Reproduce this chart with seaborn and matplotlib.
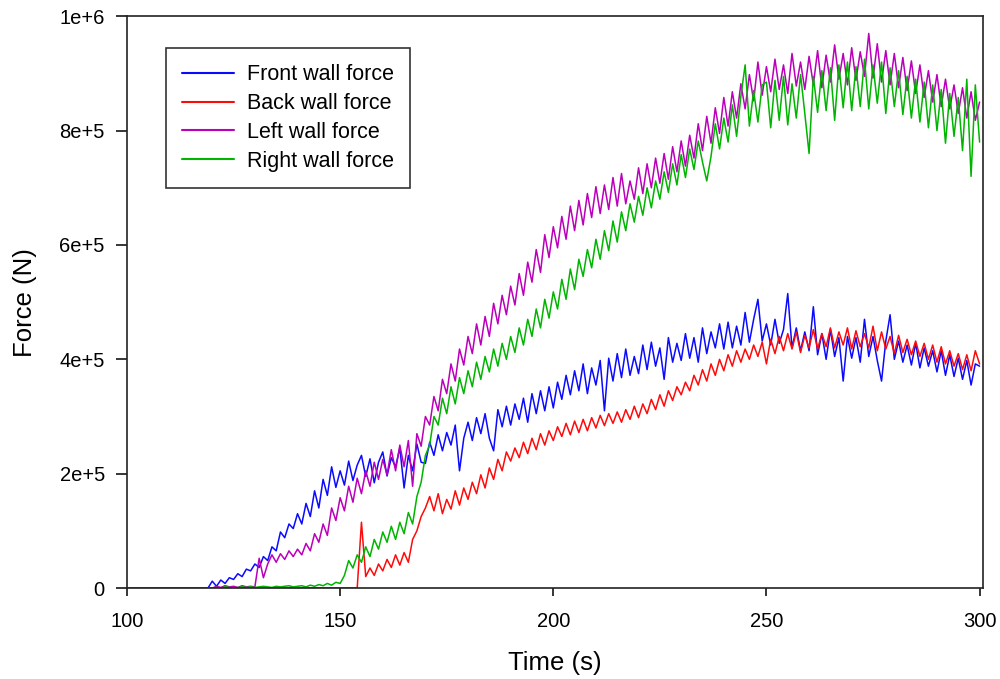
import numpy as np
import pandas as pd
import matplotlib
matplotlib.use("Agg")
import matplotlib.pyplot as plt
import seaborn as sns

# ---- data (force in kN, sampled every 1 s; zero before each start) ----
front_start = 120
front_kN = [
    12, 3, 14, 8, 18, 15, 25, 20, 33, 30,
    42, 36, 55, 48, 72, 65, 98, 88, 112, 104,
    130, 112, 148, 125, 170, 140, 190, 162, 212, 176,
    205, 180, 222, 188, 215, 232, 195, 226, 184, 220,
    238, 196, 228, 212, 245, 175, 232, 205, 252, 220,
    218, 255, 232, 268, 240, 272, 250, 285, 205, 262,
    290, 258, 298, 270, 305, 262, 240, 312, 282, 318,
    285, 322, 295, 332, 290, 340, 305, 345, 310, 352,
    315, 360, 330, 372, 338, 380, 345, 392, 340, 385,
    355, 398, 310, 402, 362, 410, 368, 418, 372, 405,
    375, 425, 382, 430, 388, 420, 365, 438, 395, 428,
    398, 445, 402, 438, 395, 455, 410, 448, 420, 462,
    418, 465, 420, 458, 425, 482, 430, 470, 505, 432,
    462, 425, 470, 428, 452, 515, 420, 455, 415, 448,
    415, 492, 408, 445, 400, 452, 405, 438, 362, 440,
    402, 438, 395, 470, 405, 440, 398, 362, 432, 478,
    400, 432, 395, 425, 390, 428, 385, 420, 388, 415,
    378, 415, 372, 408, 370, 402, 365, 398, 355, 392,
    388,
]

back_start = 154
back_kN = [
    0, 115, 20, 35, 22, 42,
    30, 50, 36, 58, 40, 62, 45, 85, 100, 125,
    140, 160, 135, 165, 130, 155, 138, 170, 145, 175,
    155, 185, 165, 198, 175, 210, 190, 225, 205, 238,
    222, 245, 228, 255, 235, 262, 242, 270, 250, 275,
    258, 282, 265, 288, 268, 292, 272, 295, 275, 298,
    280, 302, 284, 305, 288, 308, 290, 312, 295, 318,
    298, 322, 305, 330, 312, 338, 318, 345, 328, 352,
    338, 360, 345, 372, 355, 382, 362, 392, 372, 400,
    380, 408, 388, 415, 395, 418, 400, 425, 405, 430,
    392, 435, 410, 440, 415, 445, 418, 448, 412, 442,
    420, 452, 418, 445, 422, 455, 420, 448, 425, 455,
    418, 450, 422, 445, 420, 458, 415, 448, 418, 440,
    410, 442, 412, 435, 408, 432, 405, 428, 400, 425,
    395, 422, 392, 415, 388, 410, 382, 408, 380, 415,
    392,
]

left_start = 120
left_kN = [
    0, 3, 1, 4, 2, 3, 1, 4, 2, 3,
    2, 52, 18, 42, 58, 45, 60, 50, 65, 55,
    68, 58, 78, 65, 95, 80, 112, 92, 140, 118,
    158, 135, 178, 150, 192, 165, 205, 178, 220, 190,
    225, 198, 242, 205, 250, 212, 258, 178, 270, 248,
    300, 285, 335, 310, 365, 340, 392, 362, 418, 390,
    440, 410, 462, 425, 475, 440, 498, 462, 512, 478,
    528, 495, 550, 512, 570, 535, 592, 552, 618, 578,
    632, 595, 650, 610, 668, 625, 678, 635, 690, 648,
    702, 655, 705, 662, 718, 668, 725, 672, 712, 680,
    735, 690, 742, 700, 752, 708, 760, 715, 772, 728,
    782, 738, 792, 752, 812, 765, 825, 778, 840, 795,
    858, 808, 868, 822, 882, 838, 898, 852, 920, 862,
    912, 868, 925, 872, 915, 865, 935, 878, 920, 872,
    930, 880, 940, 875, 932, 885, 950, 890, 935, 880,
    945, 888, 938, 895, 970, 892, 952, 885, 940, 880,
    935, 875, 928, 870, 922, 865, 915, 858, 905, 850,
    898, 842, 890, 838, 880, 830, 875, 822, 868, 818,
    850,
]

right_start = 120
right_kN = [
    0, 1, 0, 2, 1, 0, 1, 2, 1, 2,
    1, 2, 3, 2, 1, 3, 2, 3, 4, 2,
    3, 4, 2, 5, 3, 6, 4, 8, 5, 10,
    8, 22, 48, 35, 58, 45, 72, 55, 85, 68,
    98, 80, 108, 85, 115, 95, 132, 112, 160, 185,
    232, 250, 300, 285, 332, 305, 352, 322, 368, 340,
    380, 352, 395, 365, 405, 378, 418, 388, 428, 400,
    440, 412, 455, 425, 470, 440, 488, 455, 505, 472,
    518, 488, 540, 505, 558, 522, 575, 545, 592, 560,
    610, 575, 625, 590, 642, 605, 658, 625, 672, 640,
    685, 652, 700, 665, 712, 680, 728, 692, 742, 705,
    758, 718, 768, 732, 782, 745, 712, 755, 812, 768,
    822, 780, 845, 790, 860, 915, 808, 870, 815, 880,
    885, 805, 888, 818, 895, 810, 882, 822, 898, 830,
    760, 895, 832, 905, 835, 910, 818, 915, 840, 920,
    835, 912, 842, 925, 838, 915, 848, 920, 830, 910,
    842, 905, 828, 895, 822, 890, 815, 885, 805, 880,
    800, 872, 778, 865, 790, 858, 765, 890, 720, 880,
    780,
]

series_names = ["Front wall force", "Back wall force", "Left wall force", "Right wall force"]
series_colors = ["#0a0aff", "#ff0a0a", "#bb00bb", "#00b400"]
t_origin = 100
x_ticks = [100, 150, 200, 250, 300]
y_ticks = [0, 2e5, 4e5, 6e5, 8e5, 1e6]
y_tick_labels = ["0", "2e+5", "4e+5", "6e+5", "8e+5", "1e+6"]

# ---- build long table ----
frames = []
for name, start, vals in zip(series_names,
                             [front_start, back_start, left_start, right_start],
                             [front_kN, back_kN, left_kN, right_kN]):
    t = np.concatenate([[t_origin, start - 1], np.arange(start, start + len(vals))])
    f = np.concatenate([[0.0, 0.0], np.asarray(vals, dtype=float)]) * 1000.0
    frames.append(pd.DataFrame({"Time": t, "Force": f, "Series": name}))
df = pd.concat(frames, ignore_index=True)

sns.set_theme(style="white")
plt.rcParams["font.family"] = ["Liberation Sans", "DejaVu Sans"]
plt.rcParams["text.color"] = "black"
plt.rcParams["axes.labelcolor"] = "black"

fig = plt.figure(figsize=(10, 6.79), dpi=100)
ax = fig.add_axes([0.127, 0.134, 0.856, 0.842])

for name, color in zip(series_names, series_colors):
    sub = df[df["Series"] == name]
    sns.lineplot(data=sub, x="Time", y="Force", ax=ax, color=color, lw=1.1,
                 label=name, estimator=None, sort=False)

ax.set_xlim(100, 300.8)
ax.set_ylim(0, 1e6)
ax.set_xticks(x_ticks)
ax.set_xticklabels([str(v) for v in x_ticks])
ax.set_yticks(y_ticks)
ax.set_yticklabels(y_tick_labels)
ax.tick_params(axis="both", direction="out", labelsize=14.5, color="black",
               width=1.1, colors="black")
ax.tick_params(axis="x", length=6, pad=11, bottom=True)
ax.tick_params(axis="y", length=8, pad=8, left=True)
for sp in ax.spines.values():
    sp.set_visible(True)
    sp.set_color("#222222")
    sp.set_linewidth(1.2)

ax.set_xlabel("Time (s)", fontsize=18.5, labelpad=15, color="black")
ax.set_ylabel("Force (N)", fontsize=18.5, labelpad=16, color="black")

leg = ax.legend(loc="upper left", bbox_to_anchor=(0.0456, 0.944), borderaxespad=0,
                fontsize=15.5, frameon=True, fancybox=False, handlelength=2.4,
                handletextpad=0.6, labelspacing=0.36, borderpad=0.75,
                labelcolor="black")
leg.get_frame().set_edgecolor("black")
leg.get_frame().set_linewidth(1.2)
for line in leg.get_lines():
    line.set_linewidth(1.5)

fig.savefig("out.png", dpi=100)
